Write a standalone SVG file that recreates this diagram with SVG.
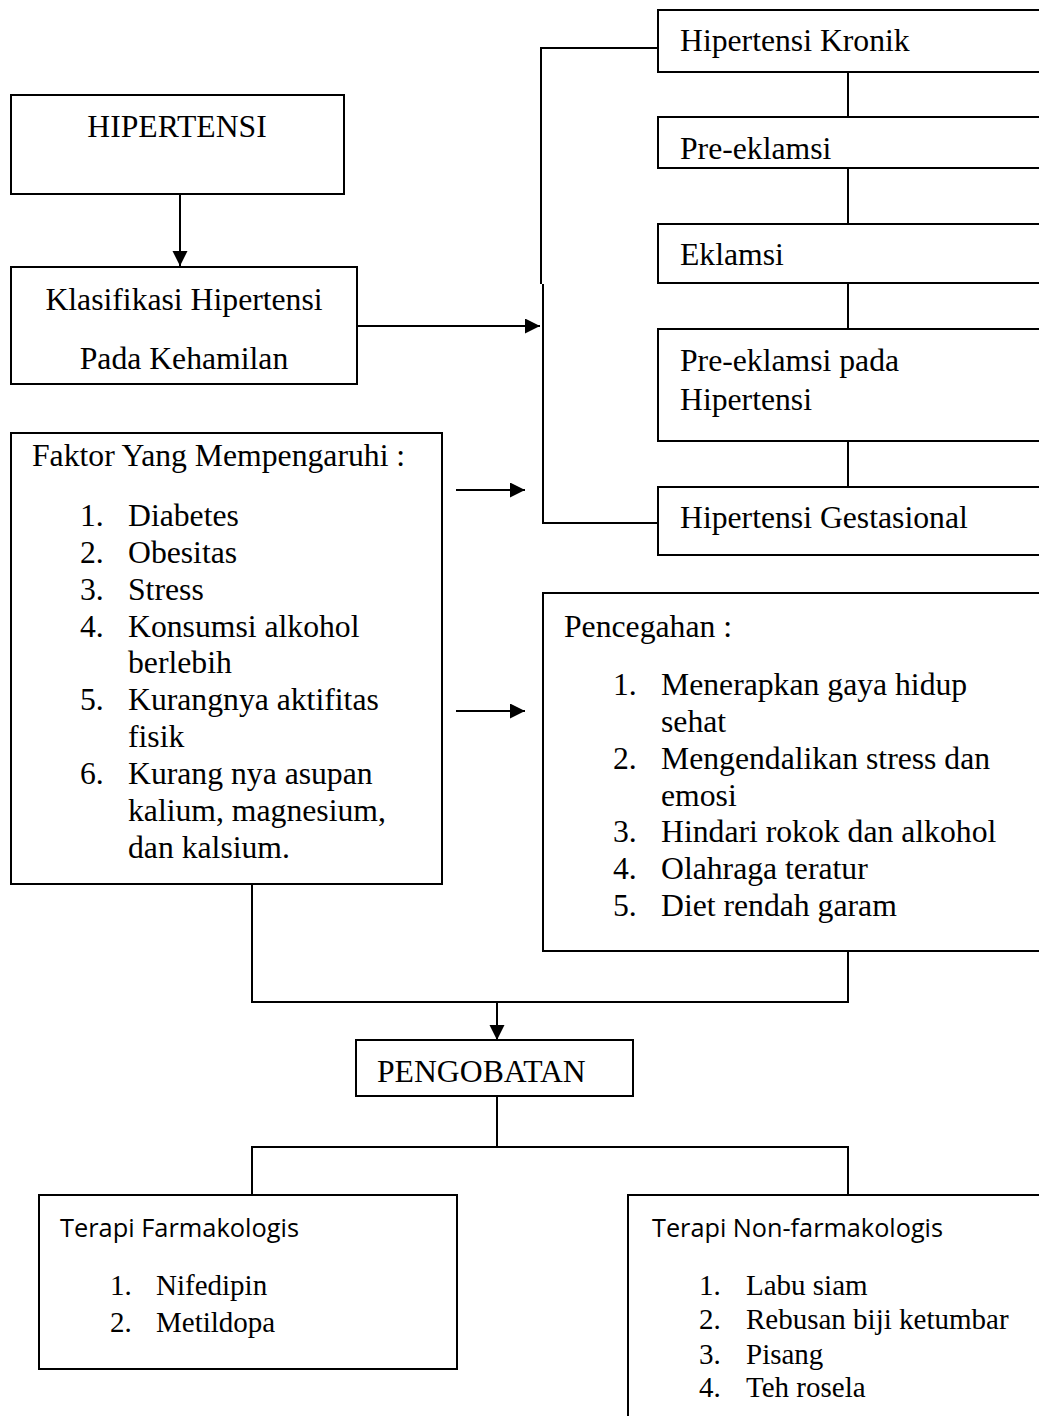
<svg xmlns="http://www.w3.org/2000/svg" width="1039" height="1416" viewBox="0 0 1039 1416">
<style>
.box{fill:#fff;stroke:#000;stroke-width:2}
.ln{fill:none;stroke:#000;stroke-width:2}
.t{font-family:"Liberation Serif","Times New Roman",serif;font-size:31.7px;fill:#000}
.s{font-family:"Liberation Serif","Times New Roman",serif;font-size:29px;fill:#000}
.h{font-family:"Open Sans","Liberation Sans",sans-serif;font-size:25px;fill:#000}
</style>
<defs>
<marker id="ah" markerUnits="userSpaceOnUse" markerWidth="16" markerHeight="16" refX="15" refY="7.5" orient="auto">
<path d="M0,0 L15,7.5 L0,15 z" fill="#000"/>
</marker>
</defs>
<rect width="1039" height="1416" fill="#fff"/>
<g id="connectors">
<path class="ln" d="M180,194 V266" marker-end="url(#ah)"/>
<path class="ln" d="M357,326 H540" marker-end="url(#ah)"/>
<path class="ln" d="M658,48 H541 V284"/>
<path class="ln" d="M543,284 V523 H658"/>
<path class="ln" d="M848,72 V117"/>
<path class="ln" d="M848,168 V224"/>
<path class="ln" d="M848,283 V329"/>
<path class="ln" d="M848,441 V487"/>
<path class="ln" d="M456,490 H525" marker-end="url(#ah)"/>
<path class="ln" d="M456,711 H525" marker-end="url(#ah)"/>
<path class="ln" d="M252,884 V1002 H848 V951"/>
<path class="ln" d="M497,1002 V1040" marker-end="url(#ah)"/>
<path class="ln" d="M497,1096 V1147"/>
<path class="ln" d="M252,1195 V1147 H848 V1195"/>
</g>
<g id="hipertensi">
<rect class="box" x="11" y="95" width="333" height="99"/>
<text class="t" x="177" y="137" text-anchor="middle">HIPERTENSI</text>
</g>
<g id="klasifikasi">
<rect class="box" x="11" y="267" width="346" height="117"/>
<text class="t" x="184" y="310" text-anchor="middle">Klasifikasi Hipertensi</text>
<text class="t" x="184" y="369" text-anchor="middle">Pada Kehamilan</text>
</g>
<g id="kronik">
<rect class="box" x="658" y="10" width="390" height="62"/>
<text class="t" x="680" y="51">Hipertensi Kronik</text>
</g>
<g id="preeklamsi">
<rect class="box" x="658" y="117" width="390" height="51"/>
<text class="t" x="680" y="159">Pre-eklamsi</text>
</g>
<g id="eklamsi">
<rect class="box" x="658" y="224" width="390" height="59"/>
<text class="t" x="680" y="265">Eklamsi</text>
</g>
<g id="preeklamsi-hipertensi">
<rect class="box" x="658" y="329" width="390" height="112"/>
<text class="t" x="680" y="371">Pre-eklamsi pada</text>
<text class="t" x="680" y="410">Hipertensi</text>
</g>
<g id="gestasional">
<rect class="box" x="658" y="487" width="390" height="68"/>
<text class="t" x="680" y="528">Hipertensi Gestasional</text>
</g>
<g id="faktor">
<rect class="box" x="11" y="433" width="431" height="451"/>
<text class="t" x="32" y="466">Faktor Yang Mempengaruhi :</text>
<text class="t" x="80" y="526">1.</text><text class="t" x="128" y="526">Diabetes</text>
<text class="t" x="80" y="563">2.</text><text class="t" x="128" y="563">Obesitas</text>
<text class="t" x="80" y="599.5">3.</text><text class="t" x="128" y="599.5">Stress</text>
<text class="t" x="80" y="636.5">4.</text><text class="t" x="128" y="636.5">Konsumsi alkohol</text>
<text class="t" x="128" y="673">berlebih</text>
<text class="t" x="80" y="710">5.</text><text class="t" x="128" y="710">Kurangnya aktifitas</text>
<text class="t" x="128" y="747">fisik</text>
<text class="t" x="80" y="784">6.</text><text class="t" x="128" y="784">Kurang nya asupan</text>
<text class="t" x="128" y="820.5">kalium, magnesium,</text>
<text class="t" x="128" y="857.5">dan kalsium.</text>
</g>
<g id="pencegahan">
<rect class="box" x="543" y="593" width="505" height="358"/>
<text class="t" x="564" y="637">Pencegahan :</text>
<text class="t" x="613" y="695">1.</text><text class="t" x="661" y="695">Menerapkan gaya hidup</text>
<text class="t" x="661" y="732">sehat</text>
<text class="t" x="613" y="769">2.</text><text class="t" x="661" y="769">Mengendalikan stress dan</text>
<text class="t" x="661" y="805.5">emosi</text>
<text class="t" x="613" y="842">3.</text><text class="t" x="661" y="842">Hindari rokok dan alkohol</text>
<text class="t" x="613" y="879">4.</text><text class="t" x="661" y="879">Olahraga teratur</text>
<text class="t" x="613" y="916">5.</text><text class="t" x="661" y="916">Diet rendah garam</text>
</g>
<g id="pengobatan">
<rect class="box" x="356" y="1040" width="277" height="56"/>
<text class="t" x="377" y="1082">PENGOBATAN</text>
</g>
<g id="farmakologis">
<rect class="box" x="39" y="1195" width="418" height="174"/>
<text class="h" x="60" y="1237" textLength="239" lengthAdjust="spacingAndGlyphs">Terapi Farmakologis</text>
<text class="s" x="110" y="1295">1.</text><text class="s" x="156" y="1295">Nifedipin</text>
<text class="s" x="110" y="1331.5">2.</text><text class="s" x="156" y="1331.5">Metildopa</text>
</g>
<g id="nonfarmakologis">
<rect class="box" x="628" y="1195" width="420" height="240"/>
<text class="h" x="652" y="1237" textLength="291" lengthAdjust="spacingAndGlyphs">Terapi Non-farmakologis</text>
<text class="s" x="699" y="1295">1.</text><text class="s" x="746" y="1295">Labu siam</text>
<text class="s" x="699" y="1329">2.</text><text class="s" x="746" y="1329">Rebusan biji ketumbar</text>
<text class="s" x="699" y="1363.5">3.</text><text class="s" x="746" y="1363.5">Pisang</text>
<text class="s" x="699" y="1397">4.</text><text class="s" x="746" y="1397">Teh rosela</text>
</g>
</svg>
